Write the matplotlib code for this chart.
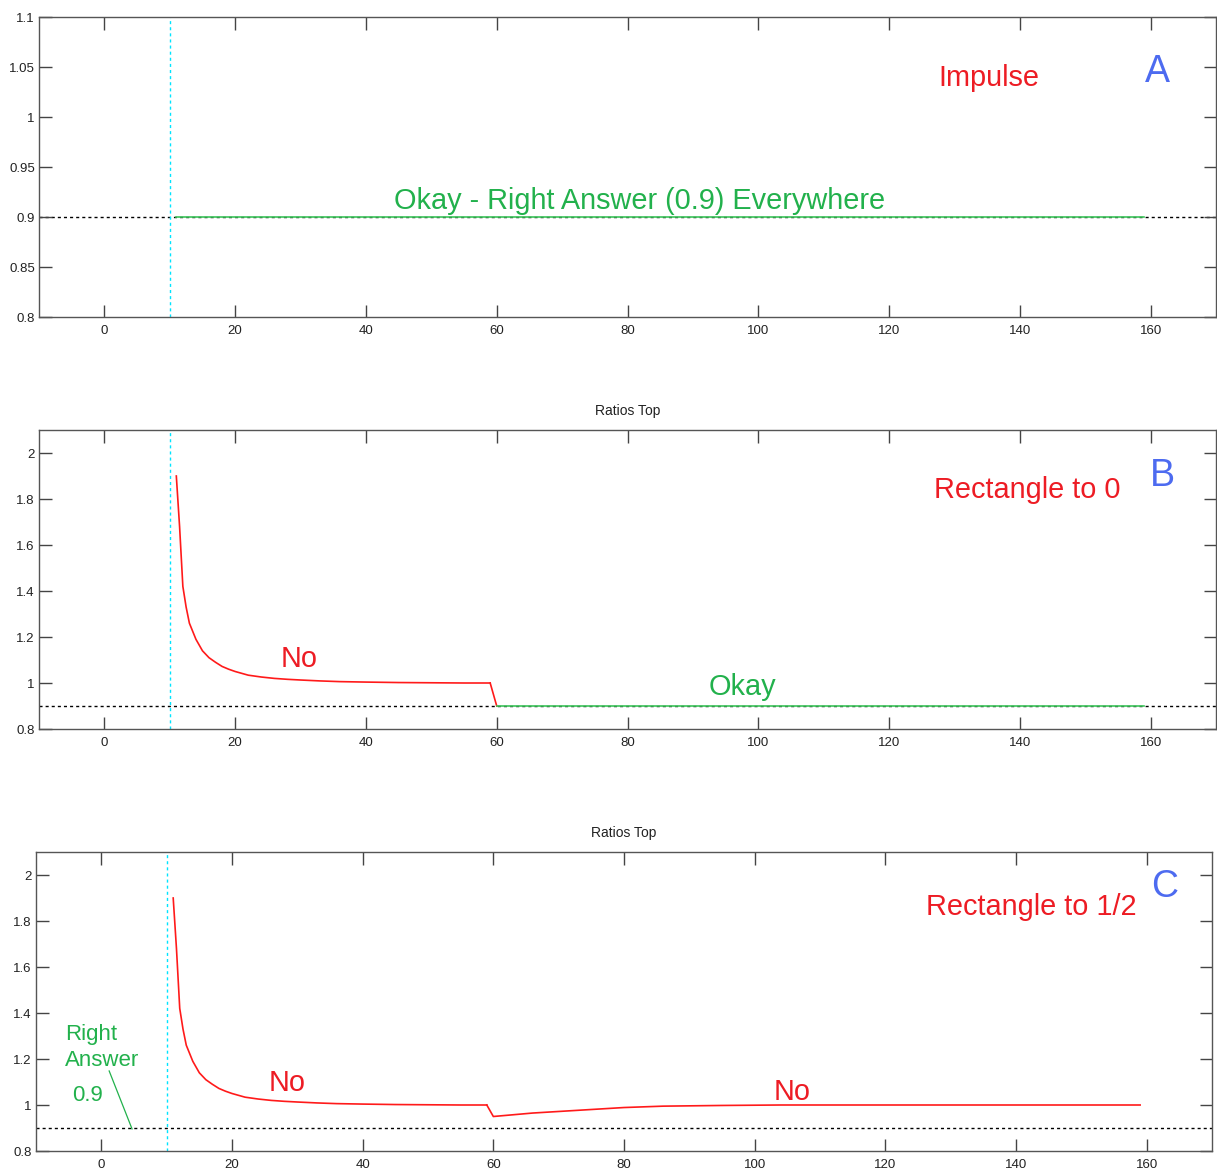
import matplotlib
matplotlib.use("Agg")
import matplotlib.pyplot as plt

plt.rcParams["font.family"] = ["Liberation Sans", "DejaVu Sans"]

# Shared settings
x_limits = (-10, 170)
x_ticks = [0, 20, 40, 60, 80, 100, 120, 140, 160]
right_answer = 0.9
marker_x = 10

# Panel A: impulse input, ratio is right everywhere
a_x = [11, 159]
a_ratio = [0.9, 0.9]

# Panel B: rectangle to 0
decay_x = [11, 11.5, 12, 12.5, 13, 14, 15, 16, 17, 18, 19, 20, 22, 24, 26, 28, 30,
           33, 36, 40, 45, 50, 55, 59]
decay_ratio = [1.90, 1.68, 1.42, 1.33, 1.26, 1.19, 1.14, 1.11, 1.09, 1.072, 1.06,
               1.05, 1.034, 1.026, 1.02, 1.016, 1.013, 1.009, 1.006, 1.004, 1.002,
               1.001, 1.0, 1.0]
b_tail_x = [59, 60]
b_tail_ratio = [1.0, 0.9]
b_ok_x = [60, 159]
b_ok_ratio = [0.9, 0.9]

# Panel C: rectangle to 1/2
c_tail_x = [59, 60, 66, 73, 80, 86, 95, 104, 159]
c_tail_ratio = [1.0, 0.95, 0.965, 0.977, 0.989, 0.995, 0.998, 1.0, 1.0]

RED_LINE = "#ff1a1a"
GREEN_LINE = "#3cc35a"
CYAN = "#00e5ff"
RED_TEXT = "#ed1c24"
GREEN_TEXT = "#22b14c"
BLUE_TEXT = "#4d6bf0"

BIG = 20.8

fig = plt.figure(figsize=(12.17, 11.69), dpi=100)

W, H = 1217.0, 1169.0


def make_axes(left, top, right, bottom):
    return fig.add_axes([left / W, 1 - bottom / H, (right - left) / W, (bottom - top) / H])


def style(ax, ylim, yticks, ylabels):
    ax.set_xlim(*x_limits)
    ax.set_ylim(*ylim)
    ax.set_xticks(x_ticks)
    ax.set_xticklabels([str(t) for t in x_ticks])
    ax.set_yticks(yticks)
    ax.set_yticklabels(ylabels)
    ax.tick_params(direction="in", length=9, width=1.0, color="#444444",
                   top=True, right=True, labelsize=9.5, labelcolor="#222222")
    ax.tick_params(axis="x", pad=6)
    ax.tick_params(axis="y", pad=3)
    for s in ax.spines.values():
        s.set_color("#555555")
        s.set_linewidth(1.0)
    ax.axhline(right_answer, color="black", lw=1.0, ls=(0, (2.2, 2.2)), zorder=1)
    ax.axvline(marker_x, color=CYAN, lw=1.0, ls=(0, (2.2, 2.2)), zorder=1)


# ---- Panel A
axA = make_axes(39, 17, 1216, 317)
style(axA, (0.8, 1.1), [0.8, 0.85, 0.9, 0.95, 1.0, 1.05, 1.1],
      ["0.8", "0.85", "0.9", "0.95", "1", "1.05", "1.1"])
axA.plot(a_x, a_ratio, color=GREEN_LINE, lw=1.2, zorder=3)
axA.text(135.2, 1.039, "Impulse", color=RED_TEXT, fontsize=BIG, ha="center", va="center")
axA.text(161.1, 1.045, "A", color=BLUE_TEXT, fontsize=27, ha="center", va="center")
axA.text(81.8, 0.916, "Okay - Right Answer (0.9) Everywhere", color=GREEN_TEXT,
         fontsize=BIG, ha="center", va="center")

b_ticks = [0.8, 1.0, 1.2, 1.4, 1.6, 1.8, 2.0]
b_labels = ["0.8", "1", "1.2", "1.4", "1.6", "1.8", "2"]

# ---- Panel B
axB = make_axes(39, 430, 1216, 729)
style(axB, (0.8, 2.1), b_ticks, b_labels)
axB.set_title("Ratios Top", fontsize=10, color="#222222", pad=11)
axB.plot(decay_x, decay_ratio, color=RED_LINE, lw=1.2, zorder=3)
axB.plot(b_tail_x, b_tail_ratio, color=RED_LINE, lw=1.2, zorder=3)
axB.plot(b_ok_x, b_ok_ratio, color=GREEN_LINE, lw=1.2, zorder=3)
axB.text(141.2, 1.840, "Rectangle to 0", color=RED_TEXT, fontsize=BIG, ha="center", va="center")
axB.text(161.8, 1.898, "B", color=BLUE_TEXT, fontsize=27, ha="center", va="center")
axB.text(29.8, 1.106, "No", color=RED_TEXT, fontsize=BIG, ha="center", va="center")
axB.text(97.6, 0.984, "Okay", color=GREEN_TEXT, fontsize=BIG, ha="center", va="center")

# ---- Panel C
axC = make_axes(36, 852, 1212, 1151)
style(axC, (0.8, 2.1), b_ticks, b_labels)
axC.set_title("Ratios Top", fontsize=10, color="#222222", pad=11)
axC.plot(decay_x, decay_ratio, color=RED_LINE, lw=1.2, zorder=3)
axC.plot(c_tail_x, c_tail_ratio, color=RED_LINE, lw=1.2, zorder=3)
axC.text(142.4, 1.862, "Rectangle to 1/2", color=RED_TEXT, fontsize=BIG, ha="center", va="center")
axC.text(162.8, 1.946, "C", color=BLUE_TEXT, fontsize=27, ha="center", va="center")
axC.text(28.5, 1.097, "No", color=RED_TEXT, fontsize=BIG, ha="center", va="center")
axC.text(105.7, 1.058, "No", color=RED_TEXT, fontsize=BIG, ha="center", va="center")
axC.text(-5.6, 1.250, "Right\nAnswer", color=GREEN_TEXT, fontsize=16, ha="left",
         va="center", linespacing=1.3)
axC.text(-2.1, 1.043, "0.9", color=GREEN_TEXT, fontsize=16, ha="center", va="center")
axC.plot([1.2, 4.7], [1.148, 0.896], color=GREEN_TEXT, lw=0.9, zorder=3)

fig.savefig("out.png", dpi=100)
